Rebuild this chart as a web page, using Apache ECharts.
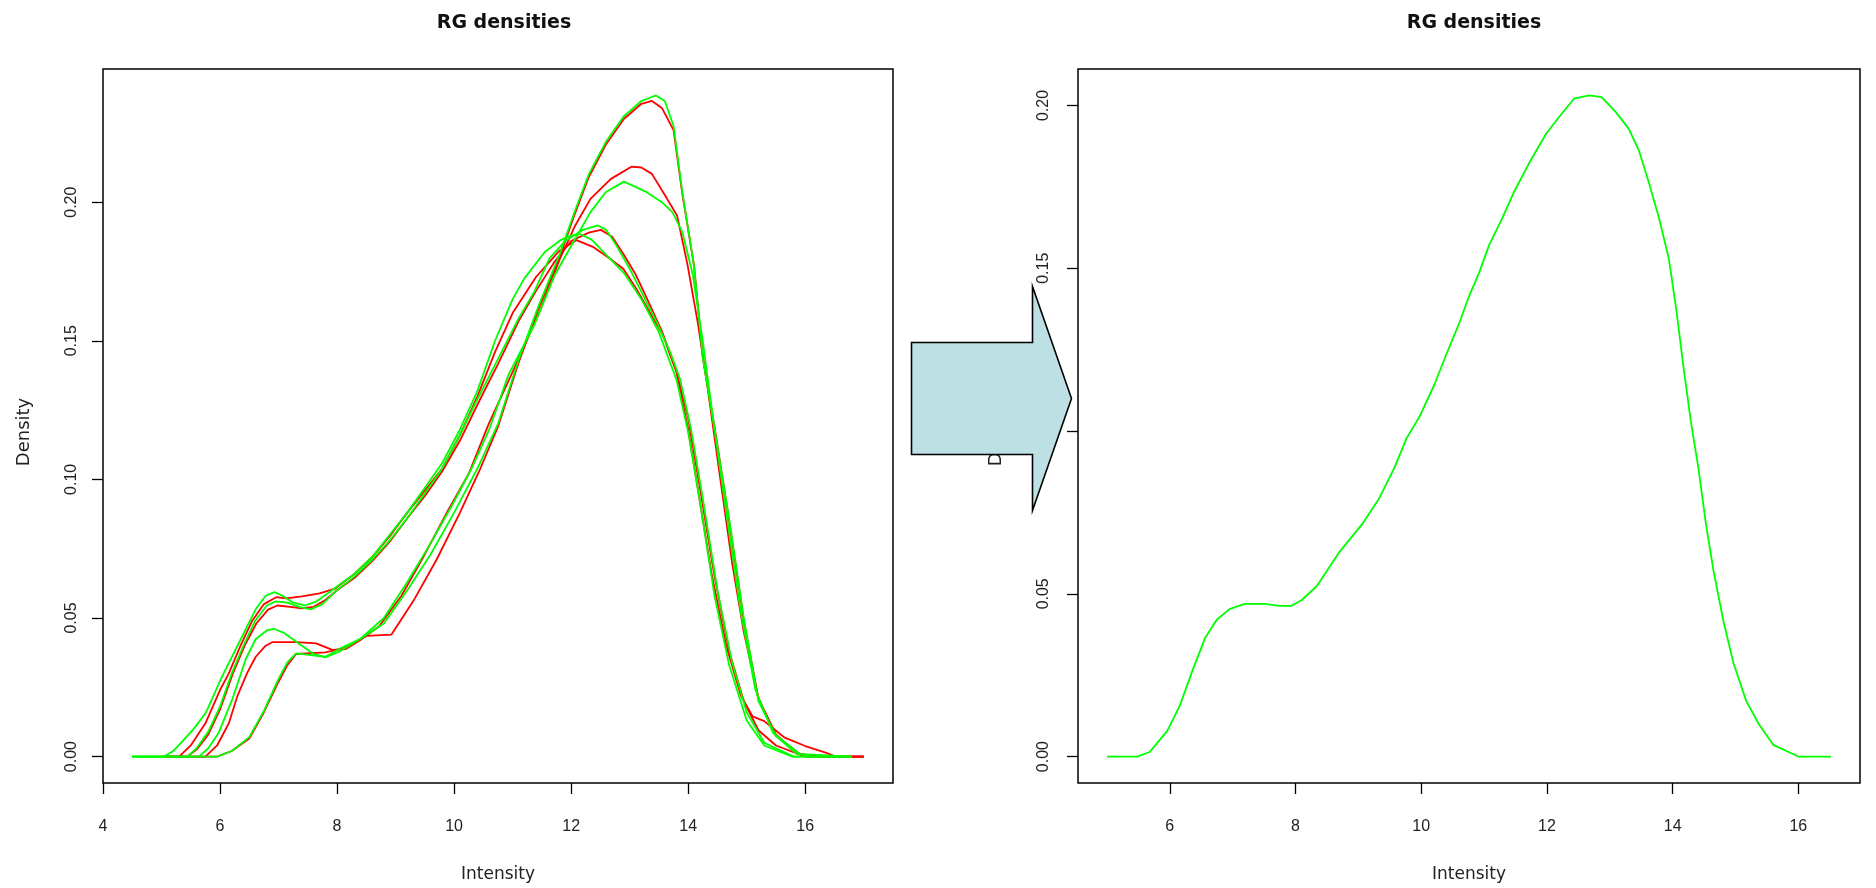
<!DOCTYPE html>
<html><head><meta charset="utf-8">
<script src="https://cdn.jsdelivr.net/npm/echarts@6/dist/echarts.min.js"></script>
<style>html,body{margin:0;padding:0;background:#fff}#c{width:1876px;height:888px}</style>
</head><body><div id="c"></div>
<script>
// ---- data (Intensity, Density) ----
const redA = [[5.0,0],[5.95,0],[6.2,0.002],[6.5,0.0065],[6.75,0.016],[7.0,0.027],[7.15,0.033],[7.3,0.037],[7.8,0.0376],[8.1,0.039],[8.5,0.0435],[8.93,0.044],[9.3,0.056],[9.7,0.071],[10.1,0.088],[10.45,0.104],[10.75,0.119],[11.1,0.142],[11.45,0.162],[11.8,0.180],[12.05,0.195],[12.3,0.209],[12.6,0.221],[12.9,0.230],[13.2,0.2355],[13.38,0.2365],[13.55,0.234],[13.75,0.226],[13.9,0.203],[14.1,0.177],[14.25,0.144],[14.45,0.119],[14.7,0.085],[14.95,0.049],[15.2,0.021],[15.5,0.008],[15.85,0.0012],[16.2,0],[17.0,0]];
const greenA = [[4.5,0],[5.95,0],[6.2,0.002],[6.5,0.007],[6.75,0.0165],[7.0,0.028],[7.15,0.034],[7.3,0.0372],[7.8,0.036],[8.05,0.039],[8.4,0.0425],[8.8,0.048],[9.2,0.060],[9.6,0.073],[10.0,0.088],[10.4,0.104],[10.75,0.120],[11.1,0.143],[11.45,0.163],[11.8,0.181],[12.05,0.196],[12.3,0.210],[12.6,0.222],[12.9,0.231],[13.2,0.2365],[13.45,0.2385],[13.6,0.2365],[13.75,0.2275],[13.9,0.2036],[14.1,0.177],[14.25,0.1438],[14.45,0.118],[14.7,0.0858],[14.95,0.050],[15.2,0.020],[15.5,0.0075],[15.85,0.001],[16.8,0]];
const redB = [[5.0,0],[5.75,0],[5.95,0.004],[6.15,0.012],[6.3,0.022],[6.46,0.030],[6.61,0.036],[6.78,0.0400],[6.9,0.0413],[7.3,0.0413],[7.64,0.0408],[7.92,0.0385],[8.15,0.0388],[8.38,0.0418],[8.72,0.047],[9.1,0.058],[9.5,0.073],[9.9,0.089],[10.25,0.102],[10.59,0.1199],[11.11,0.1438],[11.46,0.1605],[11.81,0.1797],[12.07,0.1916],[12.33,0.2012],[12.68,0.2084],[13.03,0.2128],[13.2,0.2125],[13.38,0.2102],[13.64,0.2012],[13.81,0.1952],[13.99,0.1773],[14.17,0.1557],[14.34,0.1318],[14.55,0.100],[14.75,0.070],[14.95,0.045],[15.2,0.021],[15.5,0.0075],[15.9,0.001],[16.2,0],[17.0,0]];
const greenB = [[4.5,0],[5.64,0],[5.8,0.003],[5.98,0.0087],[6.21,0.0207],[6.44,0.0352],[6.61,0.0424],[6.8,0.0455],[6.92,0.0461],[7.1,0.0445],[7.4,0.040],[7.6,0.037],[7.8,0.0358],[8.05,0.038],[8.4,0.0425],[8.8,0.050],[9.2,0.063],[9.6,0.077],[10.0,0.092],[10.3,0.104],[10.6,0.118],[10.93,0.1378],[11.37,0.1557],[11.72,0.1737],[12.07,0.1868],[12.33,0.1964],[12.59,0.2036],[12.9,0.2074],[13.1,0.2055],[13.29,0.2036],[13.55,0.2000],[13.73,0.1964],[13.9,0.1892],[14.08,0.1737],[14.25,0.1498],[14.45,0.118],[14.65,0.088],[14.9,0.052],[15.15,0.024],[15.45,0.0085],[15.9,0.001],[16.1,0],[16.8,0]];
const redC = [[5.0,0],[5.3,0],[5.5,0.004],[5.75,0.012],[6.0,0.024],[6.15,0.030],[6.35,0.040],[6.55,0.049],[6.75,0.055],[6.96,0.0575],[7.13,0.0571],[7.4,0.0578],[7.7,0.0589],[7.97,0.0606],[8.3,0.066],[8.6,0.072],[8.9,0.0795],[9.2,0.088],[9.5,0.096],[9.8,0.104],[10.1,0.116],[10.4,0.130],[10.7,0.146],[11.0,0.160],[11.4,0.173],[11.8,0.1825],[12.09,0.1863],[12.37,0.1839],[12.66,0.1797],[12.89,0.176],[13.11,0.1689],[13.34,0.1604],[13.57,0.152],[13.8,0.1387],[14.0,0.118],[14.2,0.092],[14.4,0.066],[14.65,0.040],[14.9,0.022],[15.1,0.0145],[15.3,0.0128],[15.65,0.0068],[16.0,0.0038],[16.35,0.0014],[16.52,0],[17.0,0]];
const greenC = [[4.5,0],[5.04,0],[5.2,0.002],[5.36,0.0056],[5.55,0.010],[5.76,0.0159],[6.04,0.0291],[6.27,0.0388],[6.44,0.046],[6.61,0.0532],[6.78,0.058],[6.93,0.0593],[7.07,0.058],[7.25,0.0555],[7.45,0.0545],[7.65,0.056],[7.85,0.059],[8.04,0.062],[8.3,0.066],[8.6,0.072],[8.9,0.080],[9.2,0.088],[9.5,0.097],[9.8,0.106],[10.1,0.118],[10.4,0.132],[10.7,0.150],[11.0,0.165],[11.2,0.1725],[11.55,0.182],[11.81,0.1862],[12.0,0.188],[12.15,0.1885],[12.35,0.1865],[12.6,0.181],[12.9,0.1745],[13.2,0.165],[13.5,0.153],[13.8,0.136],[14.0,0.117],[14.2,0.092],[14.45,0.058],[14.7,0.033],[15.0,0.013],[15.3,0.004],[15.78,0],[16.8,0]];
const redD = [[5.0,0],[5.44,0],[5.6,0.0025],[5.8,0.008],[6.0,0.017],[6.22,0.030],[6.42,0.040],[6.62,0.048],[6.82,0.053],[6.98,0.0545],[7.2,0.054],[7.4,0.0535],[7.6,0.054],[7.8,0.0565],[8.0,0.060],[8.3,0.0645],[8.6,0.0705],[8.9,0.0775],[9.2,0.086],[9.5,0.094],[9.8,0.103],[10.1,0.114],[10.4,0.127],[10.76,0.142],[11.1,0.157],[11.4,0.168],[11.7,0.178],[12.0,0.186],[12.3,0.189],[12.51,0.190],[12.7,0.1875],[12.9,0.181],[13.1,0.174],[13.3,0.165],[13.55,0.1535],[13.8,0.139],[14.0,0.122],[14.2,0.097],[14.45,0.065],[14.7,0.038],[14.95,0.020],[15.2,0.0095],[15.5,0.004],[16.0,0],[17.0,0]];
const greenD = [[4.5,0],[5.44,0],[5.6,0.003],[5.8,0.009],[6.0,0.018],[6.2,0.030],[6.4,0.040],[6.6,0.049],[6.8,0.0545],[6.95,0.056],[7.15,0.0555],[7.35,0.054],[7.55,0.0531],[7.75,0.055],[7.97,0.0595],[8.3,0.065],[8.6,0.071],[8.9,0.078],[9.2,0.086],[9.5,0.095],[9.8,0.104],[10.1,0.116],[10.4,0.129],[10.76,0.1438],[11.1,0.158],[11.37,0.1677],[11.63,0.1797],[11.9,0.186],[12.2,0.190],[12.46,0.1916],[12.6,0.190],[12.77,0.1845],[13.0,0.176],[13.23,0.1664],[13.46,0.1568],[13.69,0.146],[13.86,0.1363],[14.05,0.118],[14.25,0.093],[14.5,0.060],[14.75,0.034],[15.0,0.016],[15.3,0.005],[15.8,0],[16.8,0]];
const combined = [[5.0,0],[5.48,0],[5.68,0.0014],[5.96,0.0079],[6.16,0.0157],[6.36,0.0264],[6.56,0.0364],[6.75,0.0421],[6.95,0.0453],[7.19,0.0469],[7.51,0.0469],[7.75,0.0463],[7.94,0.0463],[8.10,0.0481],[8.34,0.0524],[8.70,0.0629],[9.06,0.0714],[9.33,0.0793],[9.57,0.0886],[9.77,0.0979],[9.97,0.1043],[10.21,0.1143],[10.40,0.1236],[10.60,0.1329],[10.76,0.1414],[10.92,0.1486],[11.08,0.1571],[11.28,0.1650],[11.48,0.1736],[11.71,0.1821],[11.99,0.1914],[12.19,0.1964],[12.43,0.2021],[12.67,0.2031],[12.87,0.2026],[13.10,0.1979],[13.30,0.1929],[13.46,0.1864],[13.62,0.1764],[13.78,0.1657],[13.94,0.1529],[14.06,0.1371],[14.17,0.1200],[14.29,0.1029],[14.41,0.0886],[14.53,0.0714],[14.65,0.0571],[14.81,0.0414],[14.97,0.0286],[15.17,0.0171],[15.37,0.0100],[15.60,0.0036],[16.0,0],[16.52,0]];

const leftXTicks = [4, 6, 8, 10, 12, 14, 16];
const rightXTicks = [6, 8, 10, 12, 14, 16];
const yTicks = [0, 0.05, 0.10, 0.15, 0.20];
const titleText = 'RG densities';
const xName = 'Intensity';
const yName = 'Density';

// ---- chart ----
const FONT = '"Liberation Sans", Arial, sans-serif';
const NFONT = '"DejaVu Sans", "Liberation Sans", sans-serif';
const RED = '#ff0000', GREEN = '#00ff00';

function padded(seriesList, idx) {
  let lo = Infinity, hi = -Infinity;
  seriesList.forEach(s => s.forEach(p => { lo = Math.min(lo, p[idx]); hi = Math.max(hi, p[idx]); }));
  const pad = (hi - lo) * 0.04;
  return [lo - pad, hi + pad];
}
const leftSeries = [redA, redB, redC, redD, greenA, greenB, greenC, greenD];
const lx = padded(leftSeries, 0), ly = padded(leftSeries, 1);
const rx = padded([combined], 0), ry = padded([combined], 1);

function xAxis(gi, ext, ticks) {
  return {
    type: 'value', gridIndex: gi, min: ext[0], max: ext[1],
    name: xName, nameLocation: 'middle', nameGap: 83,
    nameTextStyle: { fontSize: 17, color: '#222', fontFamily: NFONT },
    axisLine: { show: false, onZero: false },
    axisTick: { show: true, length: 11, customValues: ticks, lineStyle: { color: '#000', width: 1.3 } },
    axisLabel: { customValues: ticks, margin: 36, fontSize: 16, color: '#222', fontFamily: FONT },
    splitLine: { show: false }
  };
}
function yAxis(gi, ext, gap, margin) {
  return {
    type: 'value', gridIndex: gi, min: ext[0], max: ext[1],
    name: yName, nameLocation: 'middle', nameGap: gap, nameRotate: 90,
    nameTextStyle: { fontSize: 18, color: '#222', fontFamily: NFONT, padding: [0, 12, 0, 0] },
    axisLine: { show: false, onZero: false },
    axisTick: { show: true, length: 11, customValues: yTicks, lineStyle: { color: '#000', width: 1.3 } },
    axisLabel: { customValues: yTicks, rotate: 90, margin, fontSize: 16, color: '#222', fontFamily: FONT,
                 formatter: v => v.toFixed(2) },
    splitLine: { show: false }
  };
}
function line(data, color, xi, yi) {
  return { type: 'line', data, xAxisIndex: xi, yAxisIndex: yi, showSymbol: false, symbol: 'none',
           lineStyle: { color, width: 1.8 }, silent: true, animation: false };
}

const chart = echarts.init(document.getElementById('c'), null, { renderer: 'canvas' });
const titleStyle = { fontSize: 19, fontWeight: 'bold', color: '#111', fontFamily: NFONT };
chart.setOption({
  backgroundColor: '#fff',
  animation: false,
  title: [
    { text: titleText, left: 499, top: 9, textAlign: 'center', textStyle: titleStyle },
    { text: titleText, left: 1469, top: 9, textAlign: 'center', textStyle: titleStyle }
  ],
  grid: [
    { left: 103, top: 69, width: 790, height: 714, show: true, borderColor: '#000', borderWidth: 1.5, containLabel: false },
    { left: 1078, top: 69, width: 782, height: 715, show: true, borderColor: '#000', borderWidth: 1.5, containLabel: false }
  ],
  xAxis: [xAxis(0, lx, leftXTicks), xAxis(1, rx, rightXTicks)],
  yAxis: [yAxis(0, ly, 70, 23), yAxis(1, ry, 73, 26)],
  series: [
    line(redA, RED, 0, 0), line(redB, RED, 0, 0), line(redC, RED, 0, 0), line(redD, RED, 0, 0),
    line(greenA, GREEN, 0, 0), line(greenB, GREEN, 0, 0), line(greenC, GREEN, 0, 0), line(greenD, GREEN, 0, 0),
    line(combined, GREEN, 1, 1)
  ],
  graphic: [{
    type: 'polygon', z: 100, silent: true,
    shape: { points: [[911.5,342.5],[1032.5,342.5],[1032.5,286.5],[1071.5,398.5],[1032.5,510.5],[1032.5,454.5],[911.5,454.5]] },
    style: { fill: '#bce0e3', stroke: '#000', lineWidth: 1.6 }
  }]
});
</script>
</body></html>
